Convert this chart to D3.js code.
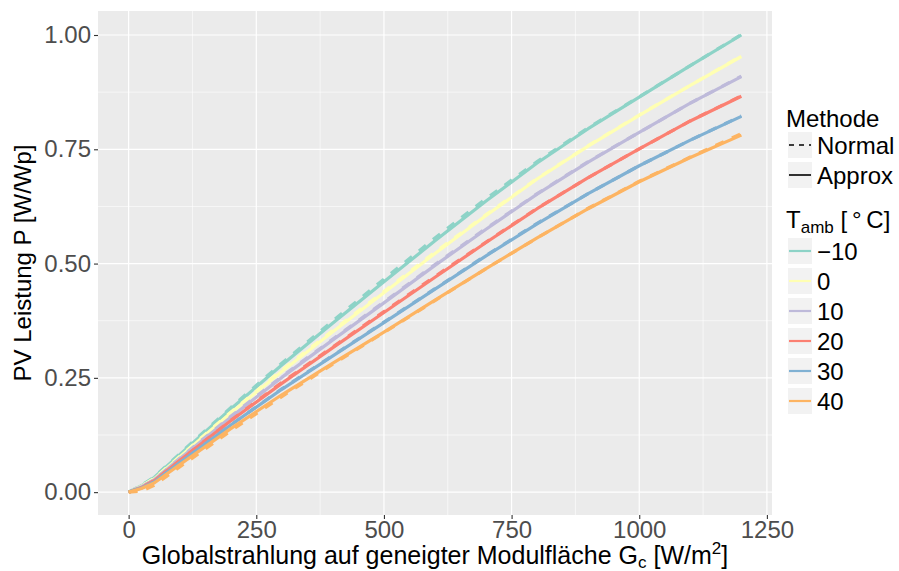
<!DOCTYPE html>
<html>
<head>
<meta charset="utf-8">
<script src="https://cdn.jsdelivr.net/npm/d3@7"></script>
<style>
  html, body { margin: 0; padding: 0; background: #fff; }
  text { font-family: "Liberation Sans", Arial, Helvetica, sans-serif; }
</style>
</head>
<body>
<svg id="chart" width="899" height="571"></svg>
<script>
// ---- data ----
const irradiance = [0, 25, 50, 100, 200, 300, 400, 500, 600, 700, 800, 900, 1000, 1100, 1200];
const temps = ["\u221210", "0", "10", "20", "30", "40"];
const colors = ["#8DD3C7", "#FFFFB3", "#BEBADA", "#FB8072", "#80B1D3", "#FDB462"];

const approxM10 = [0, 0.014, 0.032, 0.082, 0.182, 0.278, 0.370, 0.460, 0.550, 0.637, 0.720, 0.795, 0.864, 0.933, 1.000];
const approx0   = [0, 0.013, 0.029, 0.077, 0.173, 0.264, 0.351, 0.436, 0.522, 0.605, 0.685, 0.757, 0.824, 0.890, 0.953];
const approx10  = [0, 0.012, 0.027, 0.073, 0.164, 0.251, 0.333, 0.414, 0.496, 0.575, 0.652, 0.722, 0.787, 0.851, 0.909];
const approx20  = [0, 0.010, 0.025, 0.069, 0.156, 0.238, 0.316, 0.393, 0.470, 0.546, 0.620, 0.688, 0.751, 0.812, 0.866];
const approx30  = [0, 0.009, 0.022, 0.064, 0.147, 0.225, 0.298, 0.371, 0.444, 0.517, 0.587, 0.653, 0.714, 0.770, 0.822];
const approx40  = [0, 0.008, 0.020, 0.060, 0.139, 0.213, 0.282, 0.350, 0.420, 0.489, 0.556, 0.620, 0.679, 0.732, 0.781];

const normalM10 = [0, 0.015, 0.033, 0.084, 0.185, 0.282, 0.375, 0.466, 0.556, 0.642, 0.723, 0.797, 0.865, 0.933, 1.001];
const normal0   = [0, 0.013, 0.030, 0.078, 0.175, 0.267, 0.354, 0.439, 0.525, 0.607, 0.686, 0.758, 0.825, 0.890, 0.954];
const normal10  = [0, 0.012, 0.027, 0.074, 0.166, 0.253, 0.335, 0.416, 0.498, 0.577, 0.653, 0.723, 0.787, 0.851, 0.910];
const normal20  = [0, 0.010, 0.025, 0.069, 0.157, 0.240, 0.318, 0.395, 0.472, 0.547, 0.621, 0.688, 0.751, 0.812, 0.867];
const normal30  = [0, 0.009, 0.022, 0.064, 0.147, 0.226, 0.299, 0.372, 0.445, 0.518, 0.588, 0.653, 0.714, 0.770, 0.823];
const normal40  = [0, 0.002, 0.015, 0.055, 0.134, 0.209, 0.280, 0.349, 0.419, 0.489, 0.556, 0.621, 0.680, 0.733, 0.784];

const approxSeries = [approxM10, approx0, approx10, approx20, approx30, approx40];
const normalSeries = [normalM10, normal0, normal10, normal20, normal30, normal40];

const xTicks = [0, 250, 500, 750, 1000, 1250];
const xMinor = [125, 375, 625, 875, 1125];
const yTicks = [0, 0.25, 0.5, 0.75, 1.0];
const yMinor = [0.125, 0.375, 0.625, 0.875];
const methods = ["Normal", "Approx"];

// ---- layout ----
const svg = d3.select("#chart");
const panel = { left: 98, top: 11, right: 772, bottom: 515 };
const x = d3.scaleLinear().domain([-60, 1260]).range([panel.left, panel.right]);
const y = d3.scaleLinear().domain([-0.05, 1.0525]).range([panel.bottom, panel.top]);

svg.append("rect").attr("x", panel.left).attr("y", panel.top)
  .attr("width", panel.right - panel.left).attr("height", panel.bottom - panel.top)
  .attr("fill", "#EBEBEB");

const grid = svg.append("g");
grid.selectAll(".xmin").data(xMinor).enter().append("line")
  .attr("x1", d => x(d)).attr("x2", d => x(d)).attr("y1", panel.top).attr("y2", panel.bottom)
  .attr("stroke", "#fff").attr("stroke-width", 0.6);
grid.selectAll(".ymin").data(yMinor).enter().append("line")
  .attr("y1", d => y(d)).attr("y2", d => y(d)).attr("x1", panel.left).attr("x2", panel.right)
  .attr("stroke", "#fff").attr("stroke-width", 0.6);
grid.selectAll(".xmaj").data(xTicks).enter().append("line")
  .attr("x1", d => x(d)).attr("x2", d => x(d)).attr("y1", panel.top).attr("y2", panel.bottom)
  .attr("stroke", "#fff").attr("stroke-width", 1.2);
grid.selectAll(".ymaj").data(yTicks).enter().append("line")
  .attr("y1", d => y(d)).attr("y2", d => y(d)).attr("x1", panel.left).attr("x2", panel.right)
  .attr("stroke", "#fff").attr("stroke-width", 1.2);

// ---- lines ----
const line = d3.line().x((d, i) => x(irradiance[i])).y(d => y(d));
const lines = svg.append("g").attr("fill", "none").attr("stroke-linejoin", "round");
temps.forEach((t, k) => {
  lines.append("path").attr("d", line(approxSeries[k]))
    .attr("stroke", colors[k]).attr("stroke-width", 3.2);
  lines.append("path").attr("d", line(normalSeries[k]))
    .attr("stroke", colors[k]).attr("stroke-width", 3.2).attr("stroke-dasharray", "9,9");
});

// ---- axes ----
const xAxis = d3.axisBottom(x).tickValues(xTicks).tickSize(4).tickPadding(2).tickFormat(d3.format("d"));
const gx = svg.append("g").attr("transform", `translate(0,${panel.bottom})`).call(xAxis);
const yAxis = d3.axisLeft(y).tickValues(yTicks).tickSize(4).tickPadding(3).tickFormat(d3.format(".2f"));
const gy = svg.append("g").attr("transform", `translate(${panel.left},0)`).call(yAxis);
[gx, gy].forEach(g => {
  g.select(".domain").remove();
  g.selectAll(".tick line").attr("stroke", "#333333").attr("stroke-width", 1.1);
  g.selectAll(".tick text").attr("fill", "#4D4D4D").style("font-size", "24px")
    .style("font-family", "'Liberation Sans', Arial, sans-serif");
});

// axis titles
const xt = svg.append("text").attr("x", (panel.left + panel.right) / 2).attr("y", 564)
  .attr("text-anchor", "middle").attr("fill", "#000").style("font-size", "25px");
xt.append("tspan").text("Globalstrahlung auf geneigter Modulfläche G");
xt.append("tspan").text("c").style("font-size", "17px").attr("dy", 4);
xt.append("tspan").text(" [W/m").attr("dy", -4);
xt.append("tspan").text("2").style("font-size", "17px").attr("dy", -10);
xt.append("tspan").text("]").attr("dy", 10);

svg.append("text").attr("transform", `translate(31,${(panel.top + panel.bottom) / 2}) rotate(-90)`)
  .attr("text-anchor", "middle").attr("fill", "#000").style("font-size", "24px")
  .text("PV Leistung P [W/Wp]");

// ---- legend ----
const leg = svg.append("g");
const keyX = 788, keyW = 24, keyH = 26, textX = 817;
leg.append("text").attr("x", 786).attr("y", 127).style("font-size", "24px").text("Methode");
methods.forEach((m, i) => {
  const cy = 145 + i * 30;
  leg.append("rect").attr("x", keyX).attr("y", cy - keyH / 2).attr("width", keyW).attr("height", keyH).attr("fill", "#F2F2F2");
  leg.append("line").attr("x1", keyX + 1).attr("x2", keyX + keyW - 1).attr("y1", cy).attr("y2", cy)
    .attr("stroke", "#000").attr("stroke-width", 1.6)
    .attr("stroke-dasharray", m === "Normal" ? "5,5" : null);
  leg.append("text").attr("x", textX).attr("y", cy + 8.5).style("font-size", "24px").text(m);
});
const tt = leg.append("text").attr("x", 786).attr("y", 228).style("font-size", "24px");
tt.append("tspan").text("T");
tt.append("tspan").text("amb").style("font-size", "17px").attr("dy", 5);
tt.append("tspan").text(" [\u2009\u00B0\u2009C]").attr("dy", -5);
temps.forEach((t, k) => {
  const cy = 251 + k * 30;
  leg.append("rect").attr("x", keyX).attr("y", cy - keyH / 2).attr("width", keyW).attr("height", keyH).attr("fill", "#F2F2F2");
  leg.append("line").attr("x1", keyX + 1).attr("x2", keyX + keyW - 1).attr("y1", cy).attr("y2", cy)
    .attr("stroke", colors[k]).attr("stroke-width", 2.2);
  leg.append("text").attr("x", textX).attr("y", cy + 8.5).style("font-size", "24px").text(t);
});
</script>
</body>
</html>
